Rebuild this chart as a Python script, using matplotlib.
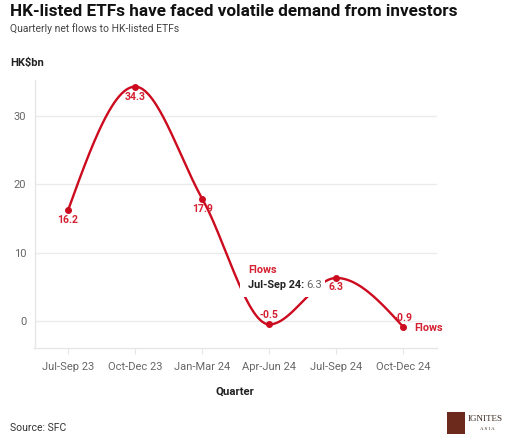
import numpy as np
import matplotlib
matplotlib.use('Agg')
import matplotlib.pyplot as plt
from matplotlib.patches import Rectangle

plt.rcParams['font.family'] = ['Roboto', 'DejaVu Sans']

quarters = ['Jul-Sep 23', 'Oct-Dec 23', 'Jan-Mar 24', 'Apr-Jun 24', 'Jul-Sep 24', 'Oct-Dec 24']
flows = [16.2, 34.3, 17.9, -0.5, 6.3, -0.9]
yticks = [0, 10, 20, 30]

RED = '#cc0b1f'
LRED = '#d42030'
GREY = '#666666'


def monotone_tangents(x, y):
	# same slopes as d3 curveMonotoneX
	x = np.asarray(x, float)
	y = np.asarray(y, float)
	h = np.diff(x)
	s = np.diff(y) / h
	t = np.zeros(len(x))
	for i in range(1, len(x) - 1):
		p = (s[i-1]*h[i] + s[i]*h[i-1]) / (h[i-1] + h[i])
		t[i] = (np.sign(s[i-1]) + np.sign(s[i])) * min(abs(s[i-1]), abs(s[i]), 0.5*abs(p))
	t[0] = (3*s[0] - t[1]) / 2
	t[-1] = (3*s[-1] - t[-2]) / 2
	return t


def monotone_curve(x, y, n=60):
	x = np.asarray(x, float)
	y = np.asarray(y, float)
	t = monotone_tangents(x, y)
	xs = []
	ys = []
	for i in range(len(x) - 1):
		h = x[i+1] - x[i]
		u = np.linspace(0, 1, n)
		h00 = 2*u**3 - 3*u**2 + 1
		h10 = u**3 - 2*u**2 + u
		h01 = -2*u**3 + 3*u**2
		h11 = u**3 - u**2
		xs.append(x[i] + u*h)
		ys.append(h00*y[i] + h10*h*t[i] + h01*y[i+1] + h11*h*t[i+1])
	return np.concatenate(xs), np.concatenate(ys)


fig = plt.figure(figsize=(5.12, 4.43), dpi=100)
ax = fig.add_axes([34.5/512, 1-348/443, (437-34.5)/512, (348-80)/443])

xpos = np.arange(len(quarters))
cx, cy = monotone_curve(xpos, flows)
ax.plot(cx, cy, color=RED, lw=1.7, zorder=3, solid_capstyle='round')
ax.plot(xpos, flows, 'o', color=RED, ms=4, zorder=4)

ax.set_xlim(-0.5, 5.5)
ax.set_ylim(-3.95, 35.27)
ax.set_xticks(xpos)
ax.set_xticklabels(quarters)
ax.set_yticks(yticks)
ax.tick_params(axis='x', length=4, color='#e6e6e6', labelsize=8, labelcolor=GREY, pad=6)
ax.tick_params(axis='y', length=0, labelsize=8, labelcolor=GREY, pad=6)
for sp in ['top', 'right']:
	ax.spines[sp].set_visible(False)
for sp in ['left', 'bottom']:
	ax.spines[sp].set_color('#e6e6e6')
	ax.spines[sp].set_linewidth(1)
ax.grid(axis='y', color='#ebebeb', lw=1)
ax.set_axisbelow(True)

# value labels
offs = [-10, -10, -10, 9, -9, 9]
for i in range(len(flows)):
	ax.annotate('%.1f' % flows[i], (xpos[i], flows[i]), xytext=(0, offs[i]), textcoords='offset pixels',
		ha='center', va='center', color=LRED, fontsize=7.5, fontweight='bold', zorder=5)
ax.annotate('Flows', (xpos[-1], flows[-1]), xytext=(11, -1), textcoords='offset pixels',
	ha='left', va='center', color=LRED, fontsize=7.8, fontweight='bold', annotation_clip=False)

# tooltip box hiding the line
ax.add_patch(Rectangle((2.567, 3.51), 3.836-2.567, 8.63-3.51, facecolor='white', edgecolor='none', zorder=6))
ax.text(2.68, 7.4, 'Flows', color=LRED, fontsize=7.8, fontweight='bold', ha='left', va='center', zorder=7)
t1 = ax.text(2.68, 5.25, 'Jul-Sep 24:', color='#222222', fontsize=7.8, fontweight='bold', ha='left', va='center', zorder=7)
fig.canvas.draw()
bb = t1.get_window_extent(fig.canvas.get_renderer())
fig.text(bb.x1/fig.dpi/5.12 + 0.004, (bb.y0+bb.y1)/2/fig.dpi/4.43, '6.3', color=GREY, fontsize=8.2, ha='left', va='center', zorder=7)

# titles and notes
fig.text(10/512, 1-12/443, 'HK-listed ETFs have faced volatile demand from investors', fontsize=12.3, fontweight='bold', color='#111111', va='center', ha='left')
fig.text(10/512, 1-29/443, 'Quarterly net flows to HK-listed ETFs', fontsize=7.5, color='#444444', va='center', ha='left')
fig.text(10/512, 1-63/443, 'HK\\$bn', fontsize=8, fontweight='bold', color='#222222', va='center', ha='left')
fig.text(235/512, 1-392/443, 'Quarter', fontsize=8.2, fontweight='bold', color='#222222', va='center', ha='center')
fig.text(10/512, 1-428/443, 'Source: SFC', fontsize=7.5, color='#333333', va='center', ha='left')

# logo
fig.patches.append(Rectangle((447/512, 1-434/443), 18/512, 22/443, transform=fig.transFigure, facecolor='#6b2a1c', edgecolor='none'))
fig.text(468/512, 1-419/443, 'IGNITES', family='Liberation Serif', fontsize=6.5, color='#3a2a20', va='center', ha='left')
fig.text(487/512, 1-429/443, 'A S I A', family='Liberation Serif', fontsize=3.5, color='#3a2a20', va='center', ha='center')

fig.savefig('out.png', dpi=100, facecolor='white')
